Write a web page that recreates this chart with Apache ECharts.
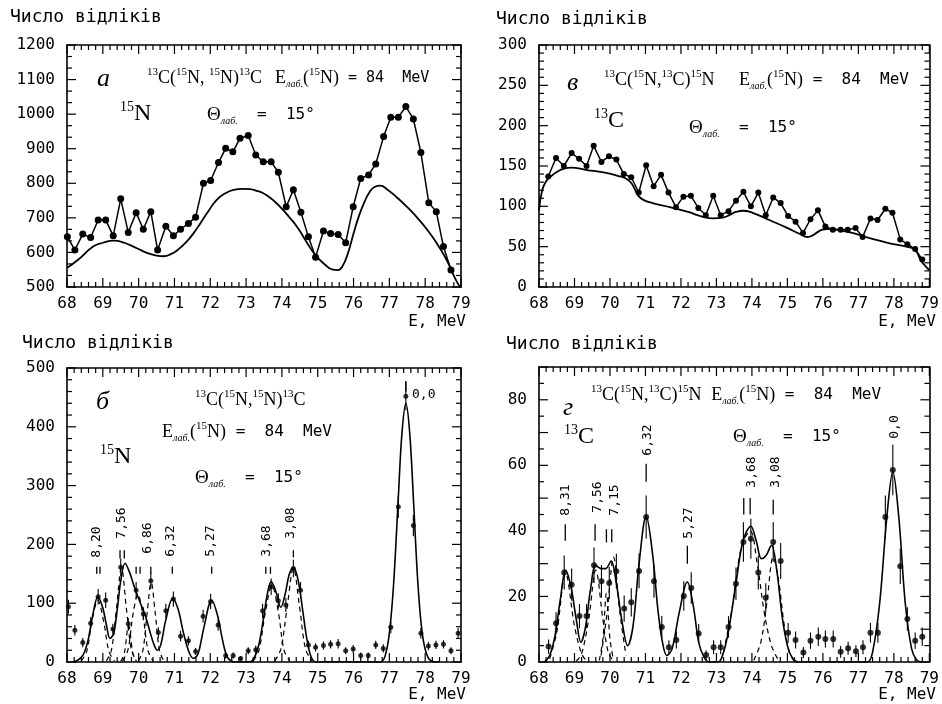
<!DOCTYPE html>
<html><head><meta charset="utf-8">
<script src="https://cdn.jsdelivr.net/npm/echarts/dist/echarts.min.js"></script>
<style>html,body{margin:0;padding:0;background:#fff}#c{width:942px;height:704px}</style>
</head><body><div id="c"></div>
<script>
// ---------- Panel а : 13C(15N,15N)13C, 15N ----------
const aE = [68.01,68.22,68.44,68.66,68.87,69.08,69.29,69.50,69.71,69.93,70.13,70.34,70.53,70.76,70.97,71.17,71.39,71.59,71.81,72.01,72.23,72.43,72.63,72.83,73.06,73.27,73.48,73.70,73.90,74.12,74.32,74.53,74.74,74.94,75.16,75.36,75.57,75.78,75.99,76.20,76.42,76.62,76.84,77.04,77.25,77.46,77.67,77.88,78.10,78.31,78.51,78.72];
const aCounts = [645,607,653,643,694,694,648,755,658,715,667,718,607,676,648,667,684,702,800,808,860,901,891,930,938,882,862,862,832,732,781,716,645,586,662,655,652,628,732,814,824,856,935,991,991,1022,986,889,744,718,617,549];
const aTheory = [[68.0,555],[68.3,578],[68.73,617],[69.0,628],[69.3,634],[69.6,628],[69.95,612],[70.25,598],[70.5,591],[70.7,589],[70.9,595],[71.1,608],[71.34,631],[71.55,658],[71.72,684],[71.95,720],[72.18,752],[72.4,770],[72.65,781],[72.9,784],[73.11,783],[73.3,778],[73.48,771],[73.7,756],[73.95,732],[74.2,703],[74.45,670],[74.7,628],[74.93,593],[75.2,565],[75.42,550],[75.55,549],[75.68,558],[75.85,600],[76.0,655],[76.15,705],[76.3,745],[76.45,775],[76.6,790],[76.75,793],[76.93,783],[77.2,760],[77.49,732],[77.8,698],[78.1,660],[78.35,622],[78.6,578],[78.85,522],[79.0,495]];

// ---------- Panel в : 13C(15N,13C)15N, 13C ----------
const bE = [68.26,68.48,68.70,68.92,69.13,69.34,69.54,69.76,69.97,70.18,70.39,70.60,70.81,71.02,71.23,71.44,71.65,71.86,72.07,72.28,72.49,72.70,72.91,73.12,73.34,73.55,73.76,73.97,74.18,74.39,74.60,74.81,75.02,75.23,75.44,75.65,75.86,76.07,76.28,76.50,76.70,76.92,77.12,77.34,77.54,77.76,77.96,78.18,78.38,78.60,78.80];
const bCounts = [137,160,150,166,159,150,175,155,162,158,140,136,117,151,125,139,117,99,112,113,98,89,113,89,94,107,118,100,117,89,111,104,88,81,67,84,95,75,71,71,71,73,62,85,83,97,92,59,53,47,34];
const bTheory = [[68.0,95],[68.09,120],[68.2,131],[68.33,137],[68.6,145],[68.89,148],[69.35,145],[69.82,142],[70.29,137],[70.47,134],[70.6,129],[70.7,121],[70.8,113],[70.94,108],[71.2,104],[71.69,99],[72.2,93],[72.62,87],[72.9,85],[73.18,86],[73.4,90],[73.55,93],[73.74,94.5],[74.02,92],[74.49,83],[74.96,74],[75.34,66],[75.57,62],[75.71,64],[75.85,68],[75.99,71],[76.27,72],[76.5,70],[76.83,67],[77.29,61],[77.85,54.5],[78.41,49.5],[78.6,46],[78.76,33],[78.95,23],[79.0,21]];

// ---------- Panel б : spectrum 15N ----------
const cE = [68.04,68.22,68.44,68.66,68.87,69.08,69.28,69.50,69.71,69.93,70.13,70.34,70.55,70.76,70.97,71.17,71.39,71.59,71.80,72.01,72.22,72.43,72.64,72.85,73.06,73.27,73.46,73.70,73.90,74.11,74.32,74.52,74.74,74.94,75.16,75.36,75.57,75.78,75.99,76.20,76.41,76.62,76.83,77.04,77.25,77.46,77.67,77.88,78.09,78.30,78.51,78.72,78.92];
const cCounts = [94,54,33,66,111,105,56,161,65,122,82,138,50,87,107,44,36,18,78,103,63,11,11,6,19,21,87,128,104,97,159,122,29,25,28,30,31,19,22,11,11,29,23,59,264,452,232,49,27,29,30,19,49];
const cErr = [12,9,8,10,13,13,9,15,10,14,11,14,9,12,13,9,8,6,11,13,10,5,5,4,6,7,12,14,13,12,15,14,7,7,7,7,8,6,7,5,5,7,7,10,19,24,18,9,7,7,7,6,9];
const cFit = [[68.15,0],[68.3,3],[68.45,12],[68.58,35],[68.72,80],[68.86,111],[69.0,92],[69.1,63],[69.2,40],[69.3,48],[69.4,88],[69.5,138],[69.62,168],[69.75,152],[69.9,124],[70.05,100],[70.18,80],[70.3,55],[70.42,31],[70.52,20],[70.62,30],[70.76,72],[70.95,108],[71.1,90],[71.25,50],[71.4,18],[71.53,6],[71.66,14],[71.82,58],[72.04,105],[72.2,80],[72.34,38],[72.47,9],[72.62,1],[72.8,0],[73.1,0],[73.22,6],[73.35,28],[73.48,72],[73.6,118],[73.7,137],[73.82,122],[73.97,93],[74.1,118],[74.2,148],[74.32,161],[74.45,140],[74.58,88],[74.7,38],[74.82,8],[74.95,0],[76.75,0],[76.88,10],[77.0,49],[77.12,134],[77.25,280],[77.35,388],[77.46,440],[77.57,388],[77.68,267],[77.8,130],[77.92,48],[78.05,12],[78.2,1],[78.4,0]];
const cPart820 = [[68.4,2],[68.55,18],[68.7,70],[68.86,105],[69.02,70],[69.17,18],[69.32,2]];
const cPart756 = [[69.1,2],[69.24,20],[69.38,90],[69.52,160],[69.66,90],[69.8,20],[69.94,2]];
const cPart756b = [[69.5,1],[69.6,15],[69.72,62],[69.84,15],[69.94,1]];
const cPart700 = [[69.55,2],[69.7,20],[69.84,80],[69.98,115],[70.12,80],[70.26,20],[70.4,2]];
const cPart686 = [[70.0,2],[70.12,20],[70.24,85],[70.35,135],[70.46,85],[70.58,20],[70.7,2]];
const cPart368 = [[73.2,2],[73.36,20],[73.54,85],[73.72,130],[73.9,85],[74.06,20],[74.22,2]];
const cPart308 = [[73.8,2],[73.97,22],[74.15,95],[74.32,160],[74.49,95],[74.66,22],[74.84,2]];
const cLevels = [[68.83,150,162],[68.92,150,162],[69.48,176,190],[69.6,176,190],[69.93,150,162],[70.04,150,162],[70.34,150,162],[70.94,150,162],[72.04,150,162],[73.55,150,162],[73.68,150,162],[74.32,178,190],[77.46,460,478]];
const cLevelNames = ['8,20','7,56','6,86','6,32','5,27','3,68','3,08','0,0'];

// ---------- Panel г : spectrum 13C ----------
const dE = [68.27,68.48,68.71,68.92,69.14,69.34,69.55,69.76,69.98,70.18,70.40,70.60,70.82,71.02,71.24,71.46,71.66,71.87,72.08,72.29,72.50,72.71,72.92,73.12,73.34,73.55,73.76,73.97,74.18,74.39,74.60,74.81,75.02,75.23,75.45,75.65,75.87,76.07,76.29,76.50,76.71,76.93,77.13,77.34,77.55,77.76,77.97,78.18,78.38,78.60,78.80];
const dCounts = [4.7,11.8,27.3,23.6,14.0,14.0,29.5,24.6,24.1,27.7,16.3,18.2,27.8,44.2,24.6,10.7,4.5,6.7,20.1,22.6,8.7,2.1,4.5,4.5,10.7,23.9,36.6,37.6,27.3,19.6,36.6,30.8,8.9,6.7,2.9,6.5,7.7,7.0,7.0,3.1,4.2,3.3,4.5,8.9,8.9,44.2,58.6,29.2,13.1,6.5,7.7];
const dErr = [2.2,3.4,5.2,4.9,3.7,3.7,5.4,5.0,4.9,5.3,4.0,4.3,5.3,6.6,5.0,3.3,2.1,2.6,4.5,4.8,2.9,1.5,2.1,2.1,3.3,4.9,6.0,6.1,5.2,4.4,6.0,5.5,3.0,2.6,1.7,2.5,2.8,2.6,2.6,1.8,2.0,1.8,2.1,3.0,3.0,6.6,7.7,5.4,3.6,2.5,2.8];
const dFit = [[68.15,0],[68.3,2],[68.45,8],[68.6,19],[68.75,28],[68.9,23],[69.05,13],[69.18,6],[69.3,10],[69.45,22],[69.6,29.5],[69.75,28.5],[69.88,28.5],[70.03,30.8],[70.18,24],[70.33,13],[70.5,5],[70.65,11],[70.82,30],[71.02,44.5],[71.2,33],[71.35,16],[71.48,6],[71.6,2],[71.75,4],[71.95,15],[72.18,24.4],[72.35,17],[72.5,6],[72.65,1.5],[72.8,0],[73.05,0],[73.2,3],[73.35,10],[73.55,24],[73.75,37],[73.97,41.4],[74.12,37],[74.27,31.5],[74.4,32.5],[74.55,35.6],[74.7,28],[74.85,14],[75.0,5],[75.15,1],[75.3,0],[77.25,0],[77.4,3],[77.6,18],[77.8,44],[77.97,58],[78.14,44],[78.32,18],[78.5,4],[78.65,0.5],[78.8,0]];
const dPart831 = [[68.3,1],[68.5,9],[68.75,27],[69.0,11],[69.2,2.5],[69.35,0.3]];
const dPart756 = [[69.05,0.3],[69.2,2.5],[69.4,13],[69.6,28],[69.8,13],[69.95,3],[70.1,0.3]];
const dPart756b = [[69.7,0.5],[69.8,7],[69.9,21],[70.0,7],[70.1,0.5]];
const dPart715 = [[69.75,2],[69.92,15],[70.1,32],[70.28,15],[70.45,2]];
const dPart368 = [[73.2,3],[73.45,17],[73.7,35],[73.95,40],[74.15,30],[74.35,15],[74.55,5],[74.75,0.5]];
const dPart308 = [[74.05,0.5],[74.25,6],[74.42,18],[74.6,32],[74.75,25],[74.9,12],[75.05,3],[75.2,0.5]];
const dLevels = [[68.74,37,42],[69.58,37,42],[69.9,36.5,40.5],[70.05,36.5,40.5],[71.02,55,60.5],[72.18,30,35.5],[73.77,45,50],[73.95,45,50],[74.6,45,49.5]];
const dLevelNames = ['8,31','7,56','7,15','6,32','5,27','3,68','3,08','0,0'];

// axis ranges: [min, max, major step, minor subdivisions]
const xRange = [68, 79, 1, 5];
const yRanges = [[500,1200,100,3],[0,300,50,5],[0,500,100,5],[0,90,10,2]];

const MONO = 'DejaVu Sans Mono';
const SERIF = 'Liberation Serif';

const grids = [
  {left:67, top:45, width:394, height:242},
  {left:539, top:45, width:393, height:242},
  {left:67, top:368, width:394, height:294},
  {left:539, top:367, width:393, height:295}
];

function mkX(g, pos){
  return {type:'value', gridIndex:g, position:pos, min:xRange[0], max:xRange[1], interval:xRange[2],
    axisLine:{show:true,onZero:false,lineStyle:{color:'#000',width:1.6}},
    axisTick:{show:false}, minorTick:{show:false},
    axisLabel:{show:pos==='bottom',color:'#000',fontFamily:MONO,fontSize:16,margin:9},
    splitLine:{show:false}};
}
function mkY(g, pos){
  const r = yRanges[g];
  const fmt = g===3 ? (v => (v%20===0 && v<90) ? String(v) : '') : (v => String(v));
  return {type:'value', gridIndex:g, position:pos, min:r[0], max:r[1], interval:r[2],
    axisLine:{show:true,onZero:false,lineStyle:{color:'#000',width:1.6}},
    axisTick:{show:false}, minorTick:{show:false},
    axisLabel:{show:pos==='left',color:'#000',fontFamily:MONO,fontSize:16,margin:12,formatter:fmt},
    splitLine:{show:false}};
}
const xAxes = [0,1,2,3].map(g=>mkX(g,'bottom')).concat([0,1,2,3].map(g=>mkX(g,'top')));
const yAxes = [0,1,2,3].map(g=>mkY(g,'left')).concat([0,1,2,3].map(g=>mkY(g,'right')));

function zip(xs, ys){ return xs.map((x,i)=>[x, ys[i]]); }
function curve(g, pts, dashed, w, sm){
  return {type:'line', xAxisIndex:g, yAxisIndex:g, data:pts, smooth:sm||0.35, showSymbol:false, symbol:'none',
    silent:true, z:2,
    lineStyle:{color:'#000', width:w||1.6, type:dashed?[5,4]:'solid'}};
}
// vertical segment [x, y1, y2]
function segRender(w){
  return function(params, api){
    const x = api.value(0);
    const p1 = api.coord([x, api.value(1)]);
    const p2 = api.coord([x, api.value(2)]);
    return {type:'line', shape:{x1:p1[0],y1:p1[1],x2:p2[0],y2:p2[1]}, style:{stroke:'#000', lineWidth:w}};
  };
}
// horizontal segment [x1, x2, y]
function hsegRender(w){
  return function(params, api){
    const y = api.value(2);
    const p1 = api.coord([api.value(0), y]);
    const p2 = api.coord([api.value(1), y]);
    return {type:'line', shape:{x1:p1[0],y1:p1[1],x2:p2[0],y2:p2[1]}, style:{stroke:'#000', lineWidth:w}};
  };
}
function errBars(g, xs, ys, es){
  return {type:'custom', xAxisIndex:g, yAxisIndex:g, silent:true, z:3,
    data: xs.map((x,i)=>[x, Math.max(0, ys[i]-es[i]), ys[i]+es[i]]),
    encode:{x:0, y:[1,2]}, renderItem: segRender(1.1)};
}
function ticks(g, lv){
  return {type:'custom', xAxisIndex:g, yAxisIndex:g, silent:true, z:3,
    data: lv, encode:{x:0, y:[1,2]}, renderItem: segRender(1.3)};
}

// inward frame ticks, expressed in axis units (length converted from pixels)
function frameTickSeries(g){
  const r = yRanges[g], G = grids[g];
  const dy = px => px*(r[1]-r[0])/G.height;
  const dx = px => px*(xRange[1]-xRange[0])/G.width;
  const vert = [], hor = [];
  const nx = Math.round((xRange[1]-xRange[0])/xRange[2]*xRange[3]);
  for (let k=0; k<=nx; k++){
    const v = xRange[0] + k*xRange[2]/xRange[3];
    const L = (k % xRange[3] === 0) ? 9 : 5;
    vert.push([v, r[0], r[0]+dy(L)], [v, r[1]-dy(L), r[1]]);
  }
  const ny = Math.round((r[1]-r[0])/r[2]*r[3]);
  for (let k=0; k<=ny; k++){
    const v = r[0] + k*r[2]/r[3];
    const L = (k % r[3] === 0) ? 9 : 5;
    hor.push([xRange[0], xRange[0]+dx(L), v], [xRange[1]-dx(L), xRange[1], v]);
  }
  return [
    {type:'custom', xAxisIndex:g, yAxisIndex:g, silent:true, z:6, clip:false,
      data:vert, encode:{x:0, y:[1,2]}, renderItem:segRender(1.2)},
    {type:'custom', xAxisIndex:g, yAxisIndex:g, silent:true, z:6, clip:false,
      data:hor, encode:{x:[0,1], y:2}, renderItem:hsegRender(1.2)}
  ];
}

const series = [
  curve(0, aTheory, false, 1.8, 0.5),
  {type:'line', xAxisIndex:0, yAxisIndex:0, data:zip(aE,aCounts), symbol:'circle', symbolSize:7,
    itemStyle:{color:'#000'}, lineStyle:{color:'#000',width:1.5}, z:4},
  curve(1, bTheory, false, 1.8, 0.5),
  {type:'line', xAxisIndex:1, yAxisIndex:1, data:zip(bE,bCounts), symbol:'circle', symbolSize:6,
    itemStyle:{color:'#000'}, lineStyle:{color:'#000',width:1.5}, z:4},
  curve(2, cFit, false, 1.6),
  curve(2, cPart820, true, 1.2), curve(2, cPart756, true, 1.2), curve(2, cPart756b, true, 1.2),
  curve(2, cPart700, true, 1.2), curve(2, cPart686, true, 1.2), curve(2, cPart368, true, 1.2), curve(2, cPart308, true, 1.2),
  errBars(2, cE, cCounts, cErr),
  {type:'scatter', xAxisIndex:2, yAxisIndex:2, data:zip(cE,cCounts), symbol:'circle', symbolSize:5,
    itemStyle:{color:'#000'}, z:4},
  ticks(2, cLevels),
  curve(3, dFit, false, 1.6),
  curve(3, dPart831, true, 1.2), curve(3, dPart756, true, 1.2), curve(3, dPart756b, true, 1.2),
  curve(3, dPart715, true, 1.2), curve(3, dPart368, true, 1.2), curve(3, dPart308, true, 1.2),
  errBars(3, dE, dCounts, dErr),
  {type:'scatter', xAxisIndex:3, yAxisIndex:3, data:zip(dE,dCounts), symbol:'circle', symbolSize:6,
    itemStyle:{color:'#000'}, z:4},
  ticks(3, dLevels)
].concat(frameTickSeries(0), frameTickSeries(1), frameTickSeries(2), frameTickSeries(3));

// ---------- text annotations ----------
const R = {
  m:{fontFamily:SERIF,fontSize:18,lineHeight:22,fill:'#000'},
  s:{fontFamily:SERIF,fontSize:11,lineHeight:12,verticalAlign:'top',fill:'#000'},
  b:{fontFamily:SERIF,fontStyle:'italic',fontSize:10,lineHeight:12,verticalAlign:'bottom',fill:'#000'},
  t:{fontFamily:MONO,fontSize:16,lineHeight:22,fill:'#000'},
  u:{fontFamily:MONO,fontSize:15,lineHeight:22,fill:'#000'},
  q:{fontFamily:SERIF,fontSize:19,lineHeight:22,fill:'#000'},
  N:{fontFamily:SERIF,fontSize:24,lineHeight:28,fill:'#000'},
  S:{fontFamily:SERIF,fontSize:14,lineHeight:14,verticalAlign:'top',fill:'#000'}
};
function rich(x, y, text){
  return {type:'text', x:x, y:y, silent:true, style:{text:text, rich:R, fill:'#000', align:'left', verticalAlign:'middle'}};
}
function plain(x, y, text, size, family, opts){
  return {type:'text', x:x, y:y, silent:true, rotation:(opts&&opts.rot)||0,
    style:Object.assign({text:text, fontSize:size, fontFamily:family, fill:'#000', align:'left', verticalAlign:'middle'}, (opts&&opts.style)||{})};
}
const REAC_EL = '{s|13}{m|C(}{s|15}{m|N, }{s|15}{m|N)}{s|13}{m|C}';
const REAC_EL2 = '{s|13}{m|C(}{s|15}{m|N,}{s|15}{m|N)}{s|13}{m|C}';
const REAC_TR = '{s|13}{m|C(}{s|15}{m|N,}{s|13}{m|C)}{s|15}{m|N}';
const ELAB = '{m|E}{b|лаб.}{m|(}{s|15}{m|N)}{t| =  84  MeV}';
const ELAB_A = '{m|E}{b|лаб.}{m|(}{s|15}{m|N)}{u| = 84  MeV}';
const THETA = '{q|Θ}{b|лаб.}{t|  =  15°}';
const YT = 'Число відліків';
const XT = 'E, MeV';
const ITAL = {fontStyle:'italic'};
const ROT = Math.PI/2;
const rotLbl = (x,y,t)=>plain(x,y,t,13,MONO,{rot:ROT,style:{align:'center'}});

const graphic = [
  plain(10,17,YT,18,MONO), plain(466,322,XT,16,MONO,{style:{align:'right'}}),
  plain(97,79,'а',26,SERIF,{style:ITAL}),
  rich(147,78,REAC_EL), rich(275,78,ELAB_A),
  rich(120,114,'{S|15}{N|N}'), rich(207,115,THETA),
  plain(496,19,YT,18,MONO), plain(936,322,XT,16,MONO,{style:{align:'right'}}),
  plain(567,83,'в',26,SERIF,{style:ITAL}),
  rich(604,80,REAC_TR), rich(739,80,ELAB),
  rich(594,121,'{S|13}{N|C}'), rich(689,128,THETA),
  plain(22,343,YT,18,MONO), plain(466,695,XT,16,MONO,{style:{align:'right'}}),
  plain(96,402,'б',26,SERIF,{style:ITAL}),
  rich(195,400,REAC_EL2), rich(162,432,ELAB),
  rich(100,457,'{S|15}{N|N}'), rich(195,478,THETA),
  rotLbl(97,542,cLevelNames[0]), rotLbl(122,523,cLevelNames[1]), rotLbl(148,538,cLevelNames[2]),
  rotLbl(171,541,cLevelNames[3]), rotLbl(211,541,cLevelNames[4]), rotLbl(267,541,cLevelNames[5]),
  rotLbl(291,523,cLevelNames[6]),
  plain(412,395,cLevelNames[7],13,MONO),
  plain(506,344,YT,18,MONO), plain(936,695,XT,16,MONO,{style:{align:'right'}}),
  plain(563,408,'г',26,SERIF,{style:ITAL}),
  rich(591,395,REAC_TR+'{t| }'+ELAB),
  rich(564,437,'{S|13}{N|C}'), rich(733,437,THETA),
  rotLbl(566,500,dLevelNames[0]), rotLbl(598,497,dLevelNames[1]), rotLbl(615,500,dLevelNames[2]),
  rotLbl(648,440,dLevelNames[3]), rotLbl(689,523,dLevelNames[4]), rotLbl(752,472,dLevelNames[5]),
  rotLbl(776,472,dLevelNames[6]), rotLbl(895,427,dLevelNames[7])
];

const chart = echarts.init(document.getElementById('c'));
chart.setOption({
  animation:false,
  backgroundColor:'#fff',
  grid:grids,
  xAxis:xAxes,
  yAxis:yAxes,
  series:series,
  graphic:graphic
});
</script></body></html>
